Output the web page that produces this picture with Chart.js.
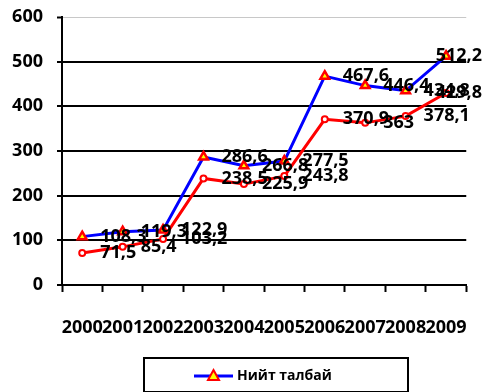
<!DOCTYPE html>
<html>
<head>
<meta charset="utf-8">
<script src="https://cdn.jsdelivr.net/npm/chart.js@4"></script>
<style>
  body { margin: 0; background: #fff; }
  canvas { display: block; }
</style>
</head>
<body>
<canvas id="areaChart" width="492" height="392"></canvas>
<script>
const years = ["2000", "2001", "2002", "2003", "2004", "2005", "2006", "2007", "2008", "2009"];
const totalArea = [108.3, 119.3, 122.9, 286.6, 266.8, 277.5, 467.6, 446.4, 434.8, 512.2];
const secondArea = [71.5, 85.4, 103.2, 238.5, 225.9, 243.8, 370.9, 363, 378.1, 429.8];
const yTicks = [0, 100, 200, 300, 400, 500, 600];

const FONT = "'Open Sans', Lato, sans-serif";

// value labels to the right of each point, pulled back in near the right edge
const valueLabels = {
  id: "valueLabels",
  afterDatasetsDraw(chart) {
    const ctx = chart.ctx;
    ctx.save();
    ctx.font = "bold 18px " + FONT;
    ctx.fillStyle = "#000";
    ctx.textAlign = "left";
    ctx.textBaseline = "middle";
    chart.data.datasets.forEach((ds, i) => {
      const meta = chart.getDatasetMeta(i);
      meta.data.forEach((pt, j) => {
        const text = String(ds.data[j]).replace(".", ",");
        const w = ctx.measureText(text).width;
        const x = Math.min(pt.x + 18, chart.width - 10 - w);
        ctx.fillText(text, x, pt.y);
      });
    });
    ctx.restore();
  }
};

// boxed legend under the chart, only the first series is listed
const boxLegend = {
  id: "boxLegend",
  afterDraw(chart) {
    const ctx = chart.ctx;
    const ds = chart.data.datasets[0];
    ctx.save();
    ctx.strokeStyle = "#000";
    ctx.lineWidth = 2;
    ctx.strokeRect(144, 358, 264, 34);

    const y = 376;
    ctx.strokeStyle = ds.borderColor;
    ctx.lineWidth = 3;
    ctx.beginPath();
    ctx.moveTo(194, y);
    ctx.lineTo(233, y);
    ctx.stroke();

    ctx.fillStyle = ds.pointBackgroundColor;
    ctx.strokeStyle = ds.pointBorderColor;
    ctx.lineWidth = 2;
    ctx.beginPath();
    ctx.moveTo(213.5, y - 6);
    ctx.lineTo(219, y + 4);
    ctx.lineTo(208, y + 4);
    ctx.closePath();
    ctx.fill();
    ctx.stroke();

    ctx.fillStyle = "#000";
    ctx.font = "bold 14px " + FONT;
    ctx.textBaseline = "middle";
    ctx.fillText(ds.label, 237, y);
    ctx.restore();
  }
};

const ctx = document.getElementById("areaChart").getContext("2d");

new Chart(ctx, {
  type: "line",
  data: {
    labels: years,
    datasets: [
      {
        label: "Нийт талбай",
        data: totalArea,
        borderColor: "#0000ff",
        borderWidth: 3,
        pointStyle: "triangle",
        pointRadius: 5,
        pointBackgroundColor: "#ffff00",
        pointBorderColor: "#ff0000",
        pointBorderWidth: 2.5,
        tension: 0,
        order: 1
      },
      {
        label: "",
        data: secondArea,
        borderColor: "#ff0000",
        borderWidth: 3,
        pointStyle: "circle",
        pointRadius: 3,
        pointBackgroundColor: "#ffffff",
        pointBorderColor: "#ff0000",
        pointBorderWidth: 2,
        tension: 0,
        order: 0
      }
    ]
  },
  options: {
    responsive: false,
    animation: false,
    devicePixelRatio: 1,
    layout: { padding: { top: 17, right: 5, left: 0, bottom: 0 } },
    plugins: {
      legend: { display: false },
      tooltip: { enabled: false }
    },
    scales: {
      x: {
        offset: true,
        grid: {
          offset: true,
          drawOnChartArea: false,
          tickLength: 7,
          tickColor: "#000",
          tickWidth: 2
        },
        border: { color: "#000", width: 2 },
        ticks: {
          color: "#000",
          font: { family: FONT, size: 18, weight: "bold" },
          padding: 25,
          autoSkip: false,
          maxRotation: 0,
          minRotation: 0
        },
        afterFit(scale) { scale.height = 107; }
      },
      y: {
        min: yTicks[0],
        max: yTicks[yTicks.length - 1],
        afterBuildTicks(scale) { scale.ticks = yTicks.map(v => ({ value: v })); },
        grid: {
          color: c => (c.tick && c.tick.value === 600 ? "#c8c8c8" : "#000"),
          lineWidth: c => (c.tick && c.tick.value === 600 ? 1 : 2),
          tickLength: 5,
          tickColor: "#000",
          tickWidth: 2
        },
        border: { color: "#000", width: 2 },
        ticks: {
          color: "#000",
          font: { family: FONT, size: 18, weight: "bold" },
          padding: 14
        },
        afterFit(scale) {
          scale.width = 62;
          scale.paddingTop = 0;
          scale.paddingBottom = 0;
        }
      }
    }
  },
  plugins: [valueLabels, boxLegend]
});
</script>
</body>
</html>
